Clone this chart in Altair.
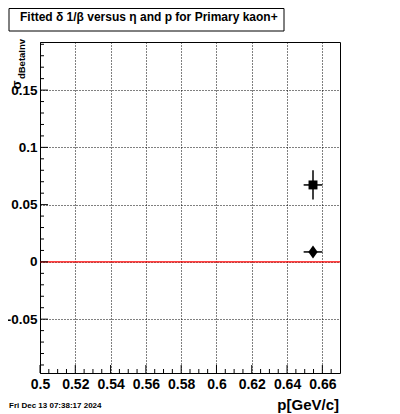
import altair as alt
import pandas as pd

# ---- data ----
p_vals = [0.6547, 0.6547]
sigma_vals = [0.0672, 0.0087]
p_errs = [0.0053, 0.0053]
sigma_errs = [0.0128, 0.0040]
markers = ["square", "diamond"]

x_major = [0.5, 0.52, 0.54, 0.56, 0.58, 0.6, 0.62, 0.64, 0.66]
x_minor = [0.505, 0.51, 0.515, 0.525, 0.53, 0.535, 0.545, 0.55, 0.555,
           0.565, 0.57, 0.575, 0.585, 0.59, 0.595, 0.605, 0.61, 0.615,
           0.625, 0.63, 0.635, 0.645, 0.65, 0.655, 0.665]
y_major = [-0.05, 0.0, 0.05, 0.1, 0.15]
y_minor = [-0.09, -0.08, -0.07, -0.06, -0.04, -0.03, -0.02, -0.01,
           0.01, 0.02, 0.03, 0.04, 0.06, 0.07, 0.08, 0.09,
           0.11, 0.12, 0.13, 0.14, 0.16, 0.17, 0.18, 0.19]

x_domain = [0.5, 0.67]
y_domain = [-0.097, 0.192]

title_text = "Fitted δ  1/β  versus η and p for Primary kaon+"
date_text = "Fri Dec 13 07:38:17 2024"
x_title = "p[GeV/c]"

W, H = 300, 331
FONT = "Liberation Sans"

df = pd.DataFrame({
    "p": p_vals, "s": sigma_vals, "pe": p_errs, "se": sigma_errs, "m": markers,
})
df["p_lo"] = df["p"] - df["pe"]
df["p_hi"] = df["p"] + df["pe"]
df["s_lo"] = df["s"] - df["se"]
df["s_hi"] = df["s"] + df["se"]

xs = alt.Scale(domain=x_domain, nice=False, zero=False)
ys = alt.Scale(domain=y_domain, nice=False, zero=False)

X_AXIS = alt.Axis(values=x_major, labelPadding=4, labelFontSize=14,
                  labelOverlap=False, tickCount=9,
                  labelExpr="format(datum.value, '~g')")
Y_AXIS = alt.Axis(values=y_major, labelPadding=3, labelFontSize=13.5,
                  labelOverlap=False,
                  labelExpr="datum.value < 0 ? '-' + format(-datum.value, '~g') : format(datum.value, '~g')")


def X(field):
    return alt.X(field, type="quantitative", scale=xs, title=None, axis=X_AXIS)


def Y(field):
    return alt.Y(field, type="quantitative", scale=ys, title=None, axis=Y_AXIS)


base = alt.Chart(df)

# red zero line
zero_df = pd.DataFrame({"z": [0.0]})
zero_line = alt.Chart(zero_df).mark_rule(color="red", strokeWidth=1.3).encode(y=Y("z"))

# error bars
xerr = base.mark_rule(color="black", strokeWidth=1.5).encode(
    x=X("p_lo"), x2="p_hi:Q", y=Y("s"))
yerr = base.mark_rule(color="black", strokeWidth=1.5).encode(
    x=X("p"), y=Y("s_lo"), y2="s_hi:Q")

square = base.transform_filter(alt.datum.m == "square").mark_point(
    shape="square", filled=True, color="black", size=80, opacity=1
).encode(x=X("p"), y=Y("s"))

diamond = base.transform_filter(alt.datum.m == "diamond").mark_point(
    shape="M-0.72,0L0,-1L0.72,0L0,1Z", filled=True, color="black", size=169, opacity=1
).encode(x=X("p"), y=Y("s"))

# inside ticks
xmaj_t = alt.Chart(pd.DataFrame({"v": x_major})).mark_rule(color="black").encode(
    x=X("v"), y=alt.value(H - 8), y2=alt.value(H))
xmin_t = alt.Chart(pd.DataFrame({"v": x_minor})).mark_rule(color="black").encode(
    x=X("v"), y=alt.value(H - 4), y2=alt.value(H))
ymaj_t = alt.Chart(pd.DataFrame({"v": y_major})).mark_rule(color="black").encode(
    y=Y("v"), x=alt.value(0), x2=alt.value(8))
ymin_t = alt.Chart(pd.DataFrame({"v": y_minor})).mark_rule(color="black").encode(
    y=Y("v"), x=alt.value(0), x2=alt.value(4))

one = pd.DataFrame({"k": [0]})

title_box = alt.Chart(one).mark_rect(fill="white", stroke="black", strokeWidth=1).encode(
    x=alt.value(-31), x2=alt.value(244), y=alt.value(-33.5), y2=alt.value(-11))
title_txt = alt.Chart(one).mark_text(
    align="left", baseline="middle", font=FONT, fontSize=12, fontWeight="bold",
    color="black").encode(x=alt.value(-20), y=alt.value(-25), text=alt.value(title_text))

sig_txt = alt.Chart(one).mark_text(
    align="center", baseline="middle", font=FONT, fontSize=13, fontWeight="bold",
    angle=270, color="black").encode(x=alt.value(-23.5), y=alt.value(43), text=alt.value("σ"))
sub_txt = alt.Chart(one).mark_text(
    align="center", baseline="middle", font=FONT, fontSize=9.5, fontWeight="bold",
    angle=270, color="black").encode(x=alt.value(-18), y=alt.value(17), text=alt.value("dBetaInv"))

xt_txt = alt.Chart(one).mark_text(
    align="right", baseline="middle", font=FONT, fontSize=15, fontWeight="bold",
    color="black").encode(x=alt.value(299), y=alt.value(363), text=alt.value(x_title))

date_txt = alt.Chart(one).mark_text(
    align="left", baseline="middle", font=FONT, fontSize=8, fontWeight="bold",
    color="black").encode(x=alt.value(-31), y=alt.value(363.5), text=alt.value(date_text))

grid_layer = base.mark_point(opacity=0).encode(x=X("p"), y=Y("s"))

chart = alt.layer(
    grid_layer, zero_line, xmaj_t, xmin_t, ymaj_t, ymin_t,
    xerr, yerr, square, diamond,
    title_box, title_txt, sig_txt, sub_txt, xt_txt, date_txt,
).properties(
    width=W, height=H,
    padding={"left": 32, "top": 34, "right": 52, "bottom": 41},
    autosize=alt.AutoSizeParams(type="none"),
    background="white",
).configure_view(
    stroke="black", strokeWidth=1
).configure_axis(
    grid=True, gridDash=[1, 2], gridColor="black", gridOpacity=1, gridWidth=1,
    ticks=False, domain=False, labelFont=FONT, labelFontWeight="bold",
    labelColor="black", labelOverlap=False, labelBound=False, labelFlush=False,
)

chart.save("out.html", embed_options={"renderer": "svg", "actions": False})
